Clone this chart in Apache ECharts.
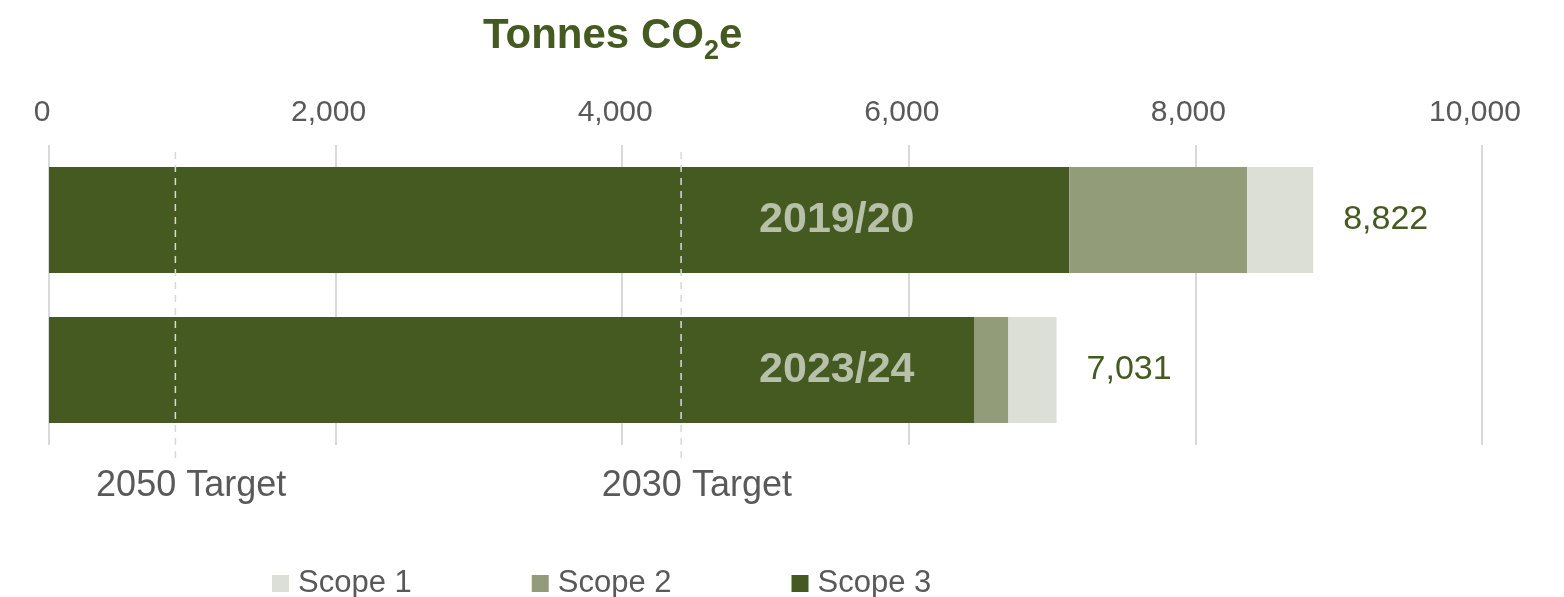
<!DOCTYPE html>
<html>
  <head>
    <meta charset="utf-8">
    <title>Tonnes CO2e</title>
    <script src="https://cdn.jsdelivr.net/npm/echarts@6/dist/echarts.min.js"></script>
    <style>
      html, body { margin: 0; padding: 0; background: #fff; }
      #chart { width: 1564px; height: 597px; }
    </style>
  </head>
  <body>
    <div id="chart"></div>
  </body>
  <script>
    // data
    var years = ['2019/20', '2023/24'];
    var scope1 = [462, 336];
    var scope2 = [1240, 240];
    var scope3 = [7120, 6455];
    var totals = [8822, 7031];
    var targets = [882, 4411];
    var targetNames = ['2050 Target', '2030 Target'];
    var xTicks = [0, 2000, 4000, 6000, 8000, 10000];

    var green = '#455A21';
    var font = 'Liberation Sans, Arial, sans-serif';

    var myChart = echarts.init(document.getElementById('chart'));

    // dashed target lines, drawn on the hidden value y axis (0 = grid top)
    var targetSeries = targets.map(function (t) {
      return {
        type: 'line',
        xAxisIndex: 0,
        yAxisIndex: 1,
        clip: false,
        silent: true,
        symbol: 'none',
        z: 5,
        lineStyle: { color: '#D9D9D9', width: 1.5, type: [7, 6] },
        data: [[t, 7], [t, 315]]
      };
    });

    var option = {
      animation: false,
      title: {
        text: '{a|Tonnes CO}{b|2}{a|e}',
        left: 478,
        top: 3,
        textStyle: {
          rich: {
            a: { fontFamily: font, fontSize: 42, fontWeight: 'bold', color: green },
            b: { fontFamily: font, fontSize: 27, fontWeight: 'bold', color: green, padding: [30, 0, 0, 0] }
          }
        }
      },
      legend: {
        data: ['Scope 1', 'Scope 2', 'Scope 3'],
        left: 267,
        top: 563,
        icon: 'rect',
        itemWidth: 17,
        itemHeight: 17,
        itemGap: 120,
        textStyle: { fontFamily: font, fontSize: 31, color: '#595959', padding: [0, 0, 0, 4] }
      },
      grid: { left: 49, right: 82, top: 145, height: 300 },
      xAxis: {
        type: 'value',
        position: 'top',
        min: xTicks[0],
        max: xTicks[xTicks.length - 1],
        interval: 2000,
        axisLine: { show: false },
        axisTick: { show: false },
        splitLine: { lineStyle: { color: '#D9D9D9', width: 2 } },
        axisLabel: {
          margin: 17,
          padding: [0, 14, 0, 0],
          fontFamily: font,
          fontSize: 30,
          color: '#595959',
          formatter: function (v) { return v.toLocaleString('en-US'); }
        }
      },
      yAxis: [
        {
          type: 'category',
          data: years,
          inverse: true,
          axisLine: { show: false },
          axisTick: { show: false },
          axisLabel: { show: false }
        },
        {
          type: 'value',
          min: 0,
          max: 300,
          inverse: true,
          show: false
        }
      ],
      series: [
        {
          name: 'Scope 3',
          type: 'bar',
          stack: 'total',
          barWidth: 106,
          itemStyle: { color: green },
          data: scope3
        },
        {
          name: 'Scope 2',
          type: 'bar',
          stack: 'total',
          barWidth: 106,
          itemStyle: { color: '#939C79' },
          data: scope2
        },
        {
          name: 'Scope 1',
          type: 'bar',
          stack: 'total',
          barWidth: 106,
          itemStyle: { color: '#DCDFD6' },
          label: {
            show: true,
            position: 'right',
            distance: 30,
            fontFamily: font,
            fontSize: 34,
            color: green,
            formatter: function (p) { return totals[p.dataIndex].toLocaleString('en-US'); }
          },
          data: scope1
        },
        // year labels inside the bars
        {
          type: 'scatter',
          symbolSize: 0,
          silent: true,
          z: 6,
          itemStyle: { opacity: 1 },
          label: {
            show: true,
            position: 'inside',
            align: 'left',
            fontFamily: font,
            fontSize: 43,
            fontWeight: 'bold',
            color: '#B7C0A8',
            formatter: function (p) { return p.value[1]; }
          },
          data: years.map(function (y) { return [4955, y]; })
        },
        // target labels under the dashed lines
        {
          type: 'scatter',
          xAxisIndex: 0,
          yAxisIndex: 1,
          symbolSize: 0,
          silent: true,
          clip: false,
          itemStyle: { opacity: 1 },
          label: {
            show: true,
            position: 'inside',
            fontFamily: font,
            fontSize: 36,
            color: '#595959',
            formatter: function (p) { return targetNames[p.dataIndex]; }
          },
          data: targets.map(function (t) { return [t + 110, 341]; })
        }
      ].concat(targetSeries)
    };

    myChart.setOption(option);
  </script>
</html>
